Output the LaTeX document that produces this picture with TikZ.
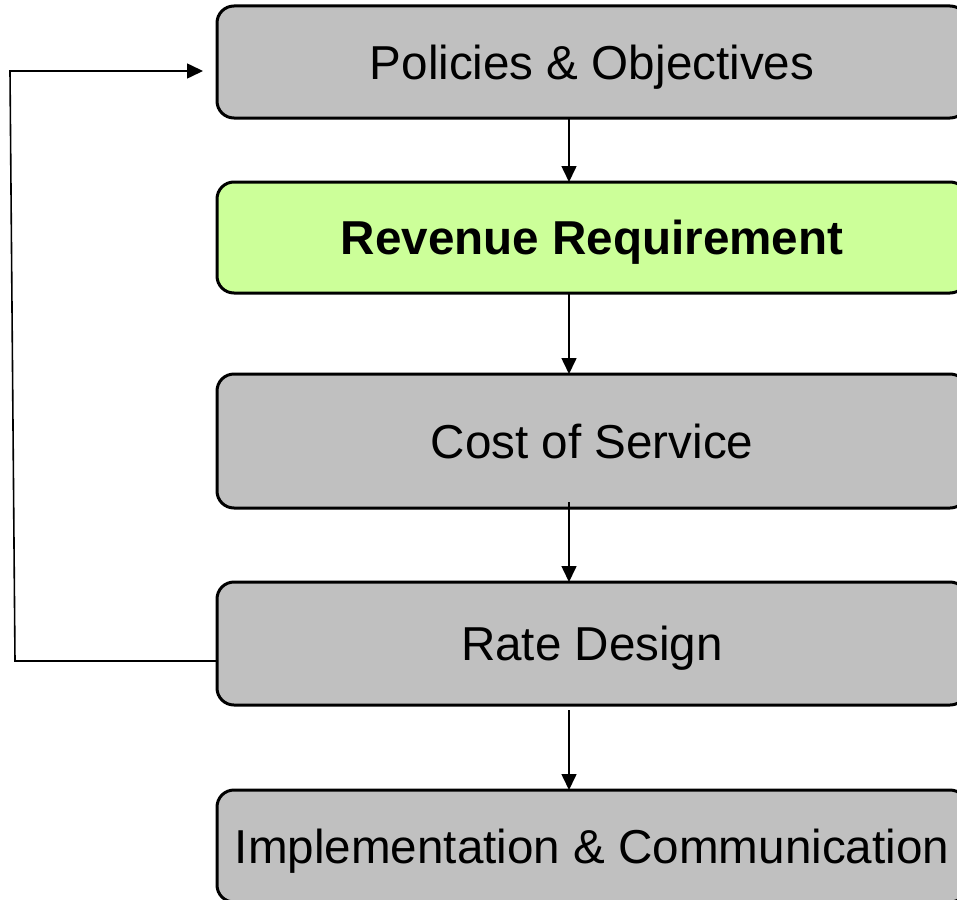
\documentclass[tikz,border=0pt]{standalone}
\usepackage{fontspec}
\setmainfont{Liberation Sans}
\usetikzlibrary{arrows.meta,calc}
\definecolor{boxgray}{HTML}{C0C0C0}
\definecolor{boxgreen}{HTML}{CCFF99}
\begin{document}
\begin{tikzpicture}[x=1pt,y=-1pt,
  flowbox/.style={draw=black, line width=3pt, rounded corners=17pt, fill=boxgray,
    minimum width=750pt, inner sep=0pt, outer sep=0pt, text depth=0pt,
    font=\fontsize{47.6}{57}\selectfont},
  arr/.style={line width=1.6pt, -{Triangle[length=16pt,width=15pt]}},
  link/.style={line width=1.6pt}]
\useasboundingbox (0,0) rectangle (957,899);
\clip (0,0) rectangle (957,899);
\node[flowbox, minimum height=112pt] (po) at (592,62) {Policies \& Objectives};
\node[flowbox, fill=boxgreen, minimum height=111pt, font=\fontsize{47.6}{57}\selectfont\bfseries] (rr) at (592,237.5) {Revenue Requirement};
\node[flowbox, minimum height=134pt] (cs) at (592,441) {Cost of Service};
\node[flowbox, minimum height=123pt] (rd) at (592,643.5) {Rate Design};
\node[flowbox, minimum height=112pt] (ic) at (592,846) {Implementation \& Communication};
\coordinate (ax) at (569,0);
\draw[arr] (po.south -| ax) -- (rr.north -| ax);
\draw[arr] (rr.south -| ax) -- (cs.north -| ax);
\draw[arr] ($(cs.south -| ax)+(0,-6)$) -- (rd.north -| ax);
\draw[arr] ($(rd.south -| ax)+(0,5)$) -- (ic.north -| ax);
\coordinate (fbot) at (15,661);
\coordinate (ftop) at (10,71);
\coordinate (ftip) at (203,71);
\draw[link] (rd.west |- fbot) -- (fbot) -- (ftop) -- (100,71);
\draw[arr] (100,71) -- (ftip);
\end{tikzpicture}
\end{document}
